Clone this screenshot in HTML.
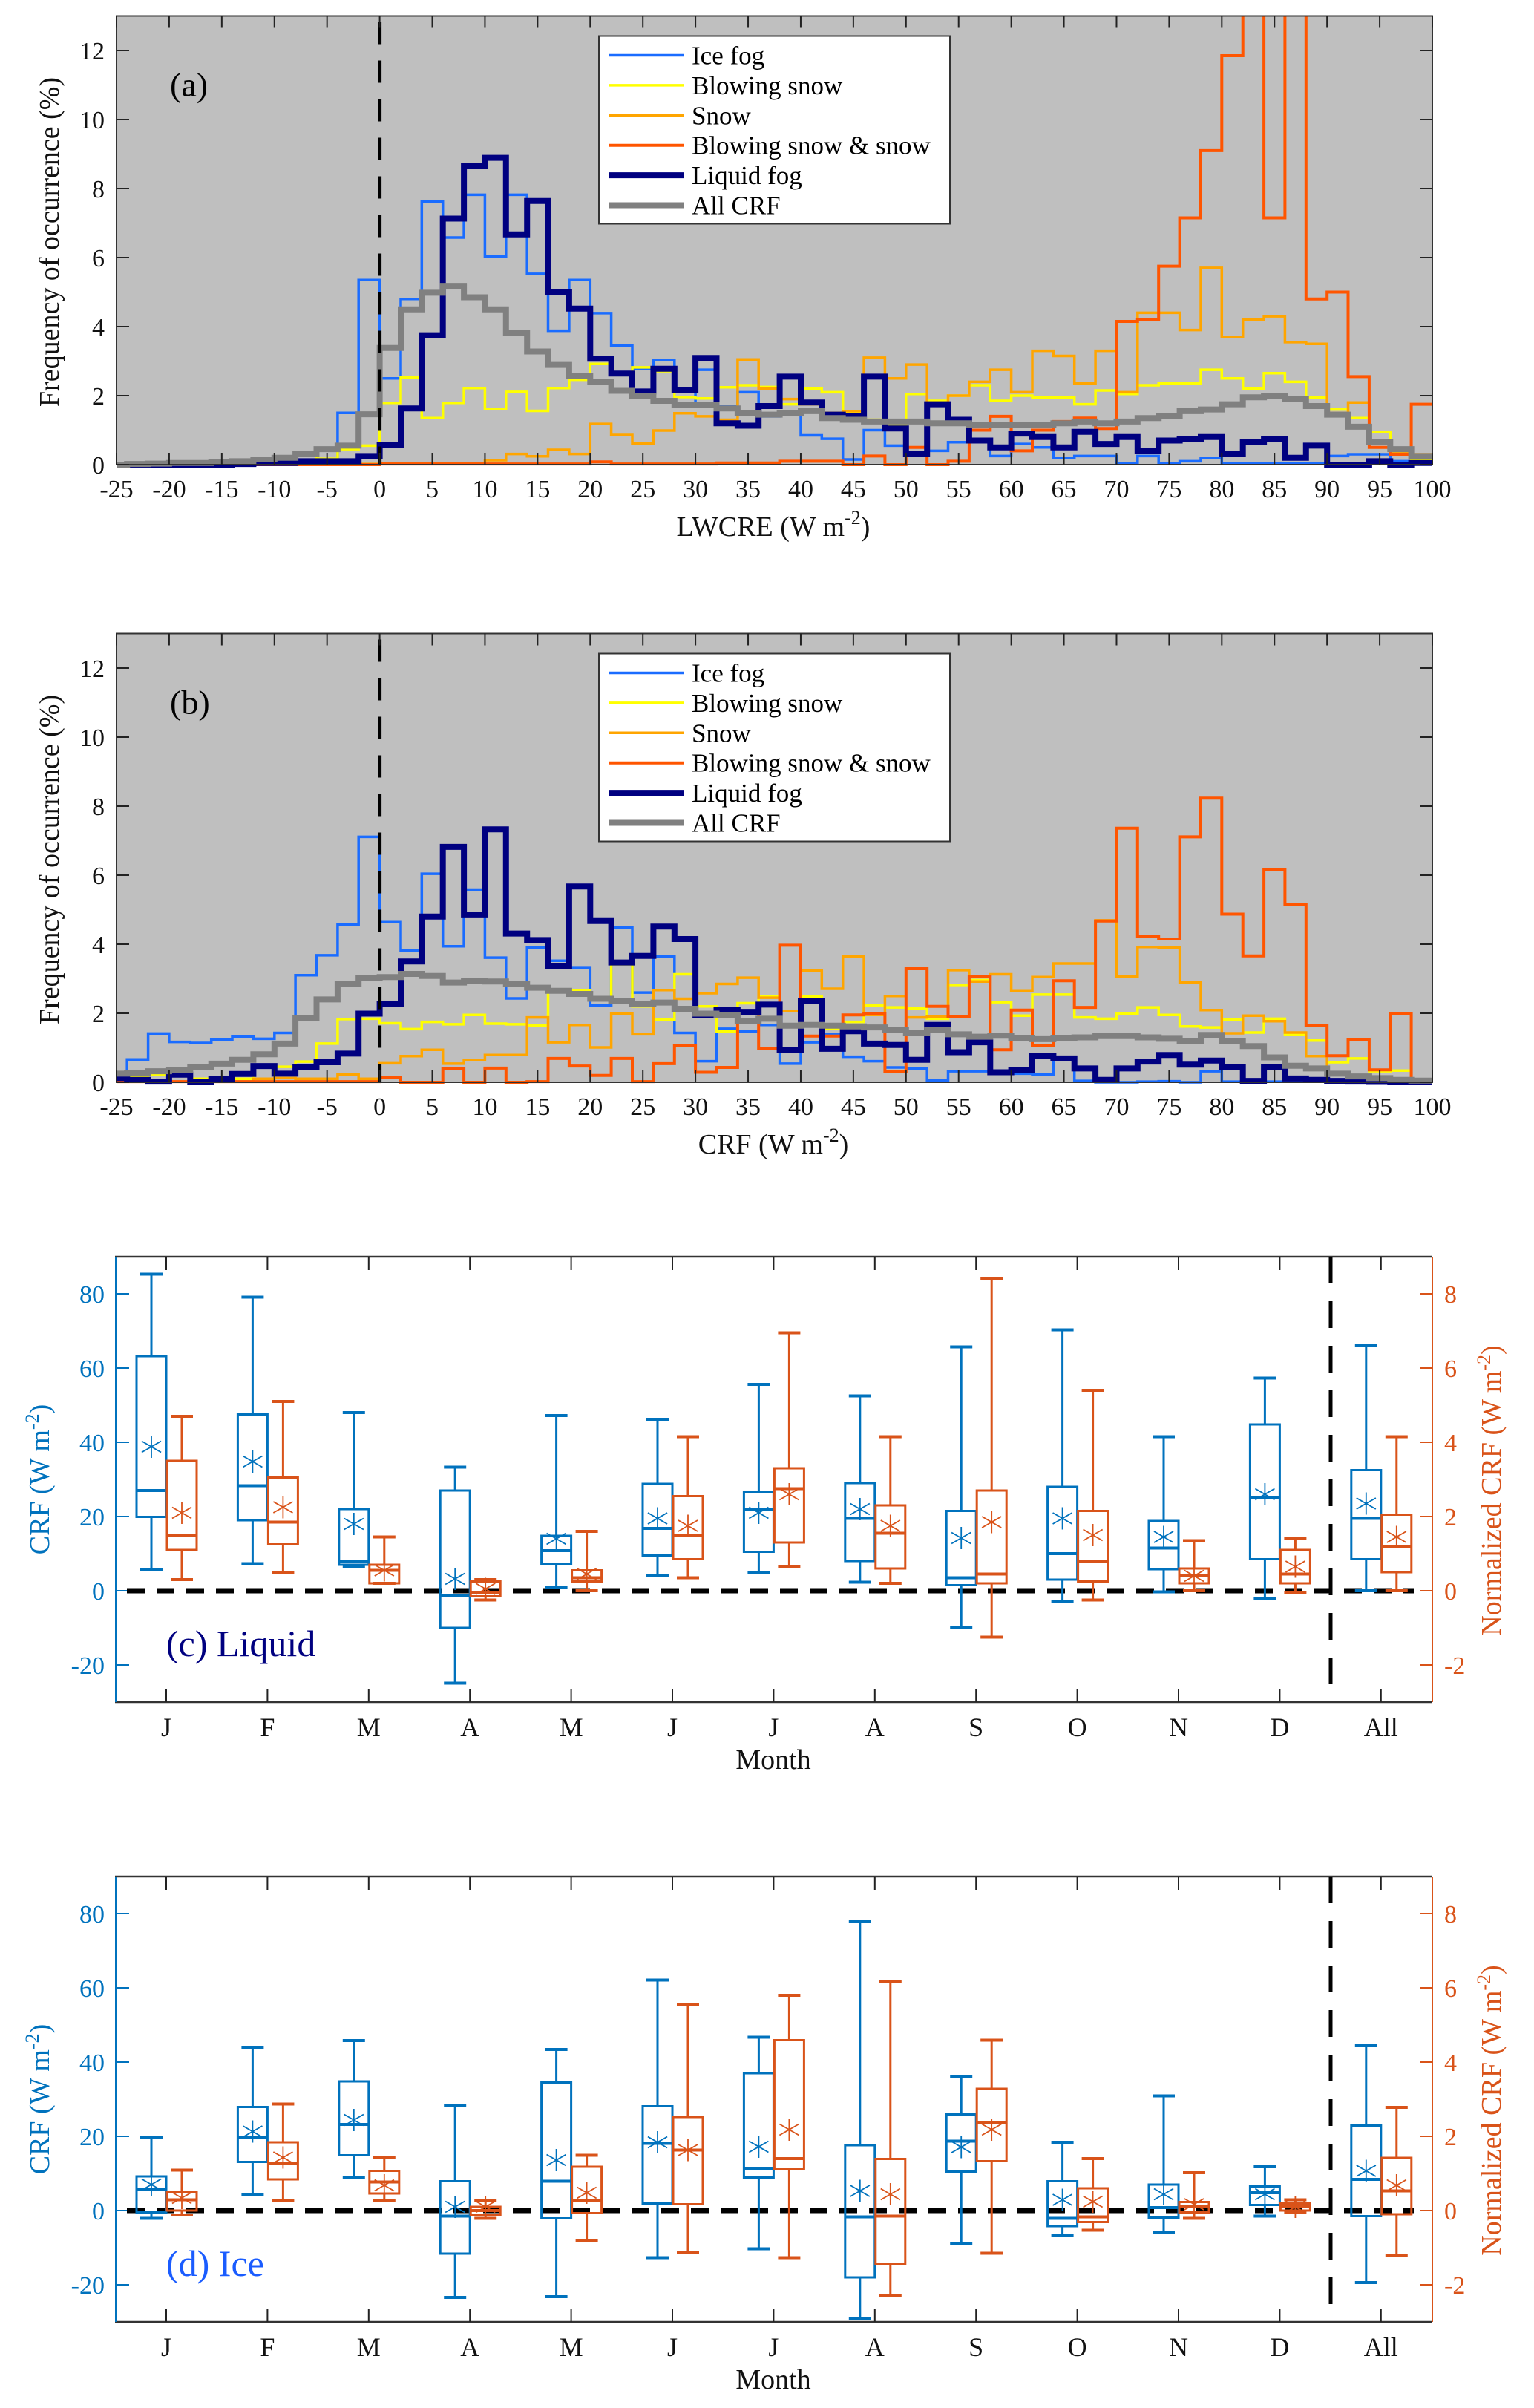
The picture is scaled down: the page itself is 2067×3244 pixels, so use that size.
<!DOCTYPE html>
<html><head><meta charset="utf-8"><title>Fog CRF figure</title>
<style>
html,body{margin:0;padding:0;background:#fff;}
svg, svg text{font-family:"Liberation Serif","DejaVu Serif",serif;}
svg{display:block;}
</style></head>
<body>
<svg id="fig" xmlns="http://www.w3.org/2000/svg" width="2067" height="3244" viewBox="0 0 2067 3244" font-family="'Liberation Serif', 'DejaVu Serif', serif">
<rect width="2067" height="3244" fill="#fff"/>
</svg>
<script>
// ---------- Histogram data: bins of width 2, left edges -26..98 ----------
const binEdges = [];
for (let e = -26; e <= 98; e += 2) binEdges.push(e);
const xTicks = [-25,-20,-15,-10,-5,0,5,10,15,20,25,30,35,40,45,50,55,60,65,70,75,80,85,90,95,100];
const yTicksHist = [0,2,4,6,8,10,12];

const aIceFog = [0,0,0,0,0,0,0,0,0,0.02,0.1,
 1.5,5.35,2.5,4.8,7.63,6.58,7.82,6.03,7.82,5.53,
 3.88,5.35,4.39,3.45,2.77,3.03,1.67,2.75,1.7,2.1,
 1.4,1.5,0.85,0.75,0.15,1.0,0.55,0.5,0.4,0.65,
 0.65,0.25,0.6,0.5,0.2,0.25,0.25,0.05,0.25,0.05,
 0.1,0.2,0.05,0.05,0.05,0.05,0.05,0.25,0.3,0.3,0.1,0.1];
const aBlowing = [0,0,0,0,0,0,0,0.05,0.05,0.3,0.17,
 0.45,0.55,1.79,2.53,1.35,1.79,2.22,1.61,2.11,1.56,
 2.22,2.46,2.92,2.67,2.82,2.71,1.96,1.92,2.24,2.3,
 2.25,1.75,2.2,2.1,1.5,1.3,1.15,2.05,1.85,2.0,
 2.3,1.85,2.0,1.95,1.95,1.75,2.15,2.05,2.3,2.35,
 2.35,2.75,2.5,2.2,2.65,2.4,1.95,1.6,1.35,0.95,0.4,0.15];
const aSnow = [0.02,0.02,0.02,0.02,0.02,0.02,0.02,0.02,0.02,0.02,0.02,
 0.02,0.02,0.05,0.05,0.05,0.05,0.05,0.13,0.31,0.24,
 0.43,0.31,1.18,0.86,0.61,0.99,1.49,1.4,1.3,3.05,
 2.2,1.9,1.75,1.5,1.55,3.1,2.5,2.9,1.8,2.0,
 2.4,2.75,2.1,3.3,3.15,2.35,3.3,2.1,4.4,4.4,
 3.9,5.7,3.7,4.2,4.3,3.55,3.5,1.5,1.8,0.6,0.35,0.3];
const aBsSnow = [0,0,0,0,0,0,0,0,0,0,0,
 0,0,0.02,0.02,0.02,0.02,0.02,0.02,0.02,0.02,
 0.02,0.02,0.08,0.02,0.02,0.02,0.02,0.02,0.05,0.05,
 0.05,0.1,0.1,0.1,0,0.25,0,0.5,0,0.1,
 1.0,1.4,0.4,1.0,1.25,1.35,1.05,4.15,4.2,5.75,
 7.15,9.1,11.85,15,7.15,15,4.8,5.0,2.55,0.5,0.3,1.75];
const aLiquid = [0,0,0,0,0,0,0.02,0.05,0.05,0.1,0.1,
 0.1,0.25,0.56,1.63,3.75,7.13,8.65,8.89,6.67,7.64,
 4.99,4.52,3.07,2.64,2.12,2.78,2.17,3.09,1.2,1.13,
 1.7,2.55,1.8,1.45,1.4,2.55,1.05,0.3,1.75,1.3,
 0.7,0.5,0.9,0.8,0.5,0.95,0.6,0.8,0.4,0.7,
 0.75,0.8,0.3,0.65,0.75,0.2,0.55,0,0,0.1,0,0.05];
const aAll = [0,0.02,0.03,0.05,0.05,0.08,0.1,0.15,0.2,0.3,0.45,
 0.55,1.46,3.38,4.5,4.98,5.18,4.85,4.5,3.81,3.28,
 2.89,2.57,2.4,2.14,2.0,1.85,1.74,1.74,1.63,1.5,
 1.45,1.5,1.55,1.35,1.3,1.25,1.25,1.25,1.2,1.2,
 1.15,1.15,1.15,1.15,1.2,1.25,1.2,1.25,1.35,1.4,
 1.55,1.6,1.75,1.95,2.0,1.9,1.7,1.45,1.1,0.65,0.45,0.25];

const bIceFog = [0.29,0.66,1.41,1.17,1.14,1.24,1.32,1.26,1.43,3.1,
 3.68,4.57,7.11,4.64,3.81,6.04,3.94,5.58,3.61,2.43,
 3.9,3.52,3.31,2.22,4.48,2.6,3.65,1.43,0.61,1.55,
 1.48,1.66,0.54,1.16,1.39,0.74,0.61,0.43,0.4,0.05,
 0.32,0.32,0.25,0.25,0.22,0.65,0.04,0,0,0.02,
 0.03,0,0.32,0.02,0.02,0.02,0.02,0.02,0.02,0.02,0.02,0.02,0.02];
const bBlowing = [0.18,0.14,0.22,0.18,0.1,0.07,0.1,0.51,0.45,0.6,
 1.12,1.83,1.84,1.71,1.54,1.75,1.68,1.95,1.7,1.68,
 1.64,2.65,2.65,2.45,3.42,2.2,1.81,3.13,2.2,1.48,
 2.29,2.5,2.07,2.48,1.55,1.75,2.22,2.17,2.14,1.84,
 2.82,2.96,2.32,1.93,2.54,2.54,1.88,1.84,1.99,2.17,
 1.95,1.62,1.59,1.81,1.44,1.84,1.37,1.21,0.58,0.69,0.32,0.34,0.02];
const bSnow = [0.02,0.02,0.02,0.02,0.02,0.02,0.02,0.1,0.12,0.1,
 0.1,0.22,0.1,0.55,0.76,0.94,0.54,0.65,0.79,0.79,
 1.88,1.16,1.66,1.01,1.99,1.39,2.67,2.42,2.58,2.85,
 3.03,2.45,2.07,3.23,2.71,3.65,1.95,2.5,1.88,1.9,
 3.25,2.92,3.13,2.64,3.05,3.44,3.44,4.69,3.07,3.92,
 3.9,2.89,2.09,1.42,1.93,1.77,1.44,0.76,0.04,0.02,0.02,0.02,0.02];
const bBsSnow = [0.02,0.02,0.02,0.02,0.02,0.02,0.02,0.02,0.02,0.02,
 0.02,0.02,0.02,0.14,0,0,0.4,0,0.41,0,
 0.02,0.69,0.47,0.2,0.69,0.02,0.54,1.06,0.29,0.43,
 2.07,0.97,3.97,1.34,1.34,1.95,1.99,0.32,3.29,2.2,
 1.91,3.07,0.94,2.09,1.06,2.94,2.17,4.67,7.36,4.22,
 4.15,7.11,8.23,4.87,3.66,6.15,5.16,1.64,0.77,1.23,0.36,1.99,0];
const bLiquid = [0.12,0.07,0.02,0.22,0.0,0.1,0.24,0.47,0.25,0.43,
 0.58,0.83,1.99,2.27,3.5,4.8,6.82,4.84,7.33,4.31,
 4.12,3.36,5.67,4.67,3.47,3.66,4.51,4.15,1.95,2.09,
 2.04,2.25,0.94,2.35,0.97,1.48,1.12,1.08,0.65,1.66,
 0.87,1.16,0.29,0.36,0.77,0.69,0.4,0.07,0.4,0.6,
 0.79,0.51,0.63,0.43,0.04,0.43,0.11,0.07,0.04,0.02,0.01,0,0];
const bAll = [0.25,0.27,0.32,0.36,0.43,0.54,0.65,0.81,1.12,1.86,
 2.4,2.85,3.03,3.05,3.14,3.08,2.89,2.94,2.92,2.84,
 2.74,2.65,2.56,2.42,2.35,2.27,2.31,2.13,1.99,1.95,
 1.77,1.84,1.64,1.66,1.64,1.62,1.59,1.52,1.42,1.52,
 1.39,1.32,1.35,1.28,1.25,1.28,1.3,1.34,1.34,1.3,
 1.26,1.19,1.37,1.19,1.05,0.72,0.48,0.4,0.25,0.17,0.12,0.07,0.05];

// ---------- Boxplot data: [low whisker, q1, median, q3, high whisker, mean] ----------
const months = ["J","F","M","A","M","J","J","A","S","O","N","D","All"];
const yTicksCRF = [-20,0,20,40,60,80];
const yTicksNorm = [-2,0,2,4,6,8];
const cLiquidCRF = [
 [5.8,19.9,27,63.2,85.3,38.8],[7.3,19,28.3,47.5,79.1,34.8],[6.5,7,8,22,48,18],
 [-24.9,-10,-1.4,27,33.3,3.2],[1,7.3,10.8,14.8,47.2,14],[4.2,9.5,16.8,28.8,46.2,19.5],
 [5,10.5,22,26.5,55.6,21],[2.3,8,19.5,29,52.5,22],[-10,1.5,3.5,21.5,65.7,14.2],
 [-3,3,10,28,70.3,19.5],[-0.3,5.8,11.5,18.8,41.5,14.5],[-2,8.5,25,44.8,57.3,26],
 [0,8.5,19.5,32.5,66,23.5]];
const cLiquidNorm = [
 [0.3,1.1,1.5,3.5,4.7,2.1],[0.5,1.25,1.85,3.05,5.1,2.25],[0.2,0.2,0.55,0.7,1.45,0.55],
 [-0.25,-0.15,-0.05,0.25,0.3,0.05],[0,0.25,0.35,0.55,1.6,0.45],[0.35,0.85,1.5,2.55,4.15,1.75],
 [0.65,1.3,2.75,3.3,6.95,2.6],[0.2,0.6,1.55,2.3,4.15,1.75],[-1.25,0.2,0.45,2.7,8.4,1.85],
 [-0.25,0.25,0.8,2.15,5.4,1.5],[0,0.2,0.4,0.6,1.35,0.4],[-0.05,0.2,0.45,1.1,1.4,0.65],
 [0,0.5,1.2,2.05,4.15,1.45]];
const dIceCRF = [
 [-2.1,-0.5,5.8,9.2,19.7,7],[4.4,13.1,19.6,27.9,44,21.3],[9,14.9,23.2,34.8,45.8,24.4],
 [-23.4,-11.6,-1.5,7.9,28.4,1],[-23.2,-2.1,7.9,34.5,43.4,13.6],[-12.7,1.9,18.1,28.1,62.1,18.4],
 [-10.3,8.9,11.3,37,46.7,17.2],[-29,-18,-1.7,17.6,78,5.3],[-9,10.5,18.7,25.9,36.1,17.1],
 [-6.8,-4.2,-2.1,7.9,18.4,2.9],[-5.9,-1.9,0.8,7,30.9,4.4],[-1.5,1.5,4.8,6.5,11.8,4.4],
 [-19.4,-1.5,8.4,22.9,44.5,10.7]];
const dIceNorm = [
 [-0.12,0,0.29,0.5,1.09,0.34],[0.27,0.84,1.28,1.84,2.87,1.43],[0.27,0.46,0.77,1.07,1.42,0.68],
 [-0.21,-0.12,0,0.1,0.27,0.1],[-0.8,-0.07,0.27,1.18,1.49,0.48],[-1.13,0.17,1.63,2.52,5.56,1.63],
 [-1.27,1.11,1.4,4.59,5.8,2.18],[-2.3,-1.43,-0.15,1.39,6.17,0.44],[-1.15,1.33,2.37,3.28,4.59,2.18],
 [-0.53,-0.31,-0.17,0.6,1.4,0.24],[-0.21,-0.05,0.1,0.23,1.02,0.17],[-0.05,0,0.1,0.19,0.29,0.1],
 [-1.21,-0.1,0.53,1.42,2.78,0.68]];

// ---------- drawing helpers ----------
const NS = "http://www.w3.org/2000/svg";
const svg = document.getElementById("fig");
function mk(tag, attrs, parent) {
  const el = document.createElementNS(NS, tag);
  for (const k in attrs) el.setAttribute(k, attrs[k]);
  (parent || svg).appendChild(el);
  return el;
}
function txt(str, attrs, parent) {
  const t = mk("text", attrs, parent);
  t.textContent = str;
  return t;
}

const L = 157, R = 1930;
const xScale = u => L + (u + 25) * (R - L) / 125;

const seriesStyle = [
  {name:"Ice fog", color:"#1a6cff", w:3.5, key:"ice-fog"},
  {name:"Blowing snow", color:"#ffff00", w:3.5, key:"blowing-snow"},
  {name:"Snow", color:"#ffa500", w:3.5, key:"snow"},
  {name:"Blowing snow & snow", color:"#ff5500", w:4, key:"blowing-snow-and-snow"},
  {name:"Liquid fog", color:"#000080", w:8, key:"liquid-fog"},
  {name:"All CRF", color:"#808080", w:8, key:"all-crf"}
];

function histPanel(id, y0, label, xtitle, data) {
  const unit = 46.5;
  const yScale = v => y0 - v * unit;
  const top = y0 - 13 * unit;
  const g = mk("g", {});
  
  
  const bg = mk("rect", {x:L, y:top, width:R-L, height:y0-top, fill:"#bfbfbf"}, g);
  
  
  const cp = mk("clipPath", {id:"clip"+id}, g);
  mk("rect", {x:L, y:top, width:R-L, height:y0-top+4}, cp);
  data.forEach((vals, si) => {
    const st = seriesStyle[si];
    let d = "";
    vals.forEach((v, k) => {
      const x1 = xScale(binEdges[k]), x2 = xScale(binEdges[k] + 2), y = yScale(v);
      d += (k === 0 ? "M" : "L") + x1.toFixed(1) + "," + y.toFixed(1) + "L" + x2.toFixed(1) + "," + y.toFixed(1);
    });
    const p = mk("path", {d:d, fill:"none", stroke:st.color, "stroke-width":st.w, "clip-path":"url(#clip"+id+")", "stroke-linejoin":"miter"}, g);
    
    
  });
  const zl = mk("line", {x1:xScale(0), x2:xScale(0), y1:top+8, y2:y0, stroke:"#000", "stroke-width":5, "stroke-dasharray":"30 22"}, g);
  
  
  const fr = mk("rect", {x:L, y:top, width:R-L, height:y0-top, fill:"none", stroke:"#333", "stroke-width":2}, g);
  
  
  xTicks.forEach(t => {
    const x = xScale(t);
    mk("line", {x1:x, x2:x, y1:y0, y2:y0-16, stroke:"#222", "stroke-width":2}, g);
    mk("line", {x1:x, x2:x, y1:top, y2:top+16, stroke:"#222", "stroke-width":2}, g);
    const tl = txt(String(t), {x:x, y:y0+44, "font-size":34, "text-anchor":"middle", fill:"#111"}, g);
    
    
  });
  yTicksHist.forEach(t => {
    const y = yScale(t);
    mk("line", {x1:L, x2:L+17, y1:y, y2:y, stroke:"#222", "stroke-width":2}, g);
    mk("line", {x1:R, x2:R-17, y1:y, y2:y, stroke:"#222", "stroke-width":2}, g);
    const tl = txt(String(t), {x:141, y:y+12, "font-size":34, "text-anchor":"end", fill:"#111"}, g);
    
    
  });
  const lg = mk("g", {}, g);
  
  
  const lt = top + 27;
  mk("rect", {x:807, y:lt, width:473, height:253, fill:"#fff", stroke:"#333", "stroke-width":2}, lg);
  seriesStyle.forEach((st, i) => {
    const ry = lt + 26 + i * 40.4;
    const e = mk("g", {}, lg);
    
    
    mk("line", {x1:821, x2:922, y1:ry, y2:ry, stroke:st.color, "stroke-width":st.w}, e);
    txt(st.name, {x:932, y:ry+12, "font-size":35, fill:"#000"}, e);
  });
  const pl = txt(label, {x:229, y:top+108, "font-size":46, fill:"#000"}, g);
  
  
  const yt = txt("Frequency of occurrence (%)", {x:0, y:0, "font-size":38, "text-anchor":"middle", fill:"#111",
    transform:"translate(79," + (y0 - 300) + ") rotate(-90)"}, g);
  
  
  const xt = mk("text", {x:1042, y:y0+96, "font-size":38, "text-anchor":"middle", fill:"#111"}, g);
  
  
  xt.appendChild(document.createTextNode(xtitle + " (W m"));
  const sup = mk("tspan", {dy:-16, "font-size":26}, xt); sup.textContent = "-2";
  const cl = mk("tspan", {dy:16}, xt); cl.textContent = ")";
}

histPanel("a", 626, "(a)", "LWCRE", [aIceFog, aBlowing, aSnow, aBsSnow, aLiquid, aAll]);
histPanel("b", 1458, "(b)", "CRF", [bIceFog, bBlowing, bSnow, bBsSnow, bLiquid, bAll]);

const BLUE = "#0072bd", ORANGE = "#d95319";
function boxPanel(id, y0, label, labelColor, crf, norm) {
  const unit = 5.0;
  const yS = v => y0 - v * unit;
  const yN = v => y0 - v * 10 * unit;
  const top = y0 - 90 * unit, bot = y0 + 30 * unit;
  const mx = i => 224 + i * 136.4;
  const g = mk("g", {});
  
  
  mk("line", {x1:L-2, x2:R, y1:top, y2:top, stroke:"#333", "stroke-width":2.5}, g);
  mk("line", {x1:L-2, x2:R, y1:bot, y2:bot, stroke:"#333", "stroke-width":2.5}, g);
  const ls = mk("line", {x1:L-1, x2:L-1, y1:top, y2:bot, stroke:BLUE, "stroke-width":2}, g);
  
  
  const rs = mk("line", {x1:R, x2:R, y1:top, y2:bot, stroke:ORANGE, "stroke-width":2}, g);
  
  
  yTicksCRF.forEach(t => {
    const y = yS(t);
    mk("line", {x1:L, x2:L+17, y1:y, y2:y, stroke:BLUE, "stroke-width":2}, g);
    const tl = txt(String(t), {x:141, y:y+12, "font-size":34, "text-anchor":"end", fill:BLUE}, g);
    
    
  });
  yTicksNorm.forEach(t => {
    const y = yN(t);
    mk("line", {x1:R, x2:R-17, y1:y, y2:y, stroke:ORANGE, "stroke-width":2}, g);
    const tl = txt(String(t), {x:1946, y:y+12, "font-size":34, "text-anchor":"start", fill:ORANGE}, g);
    
    
  });
  months.forEach((m, i) => {
    const x = mx(i);
    mk("line", {x1:x, x2:x, y1:bot, y2:bot-18, stroke:"#222", "stroke-width":2}, g);
    mk("line", {x1:x, x2:x, y1:top, y2:top+18, stroke:"#222", "stroke-width":2}, g);
    const tl = txt(m, {x:x, y:bot+46, "font-size":36, "text-anchor":"middle", fill:"#111"}, g);
    
    
  });
  const z = mk("line", {x1:171, x2:1905, y1:y0, y2:y0, stroke:"#000", "stroke-width":7, "stroke-dasharray":"24 16"}, g);
  
  
  const sep = mk("line", {x1:1793, x2:1793, y1:top, y2:bot, stroke:"#000", "stroke-width":5, "stroke-dasharray":"36 24"}, g);
  
  
  function drawBox(stats, cx, scale, color, w, name) {
    const b = mk("g", {stroke:color, fill:"none", "stroke-width":w}, g);
    
    
    const [lo, q1, med, q3, hi, mean] = stats;
    const hw = 20;
    mk("line", {x1:cx, x2:cx, y1:scale(hi), y2:scale(q3)}, b);
    mk("line", {x1:cx, x2:cx, y1:scale(q1), y2:scale(lo)}, b);
    mk("line", {x1:cx-15, x2:cx+15, y1:scale(hi), y2:scale(hi), "stroke-width":w+1}, b);
    mk("line", {x1:cx-15, x2:cx+15, y1:scale(lo), y2:scale(lo), "stroke-width":w+1}, b);
    mk("rect", {x:cx-hw, y:scale(q3), width:2*hw, height:Math.max(1, scale(q1)-scale(q3))}, b);
    mk("line", {x1:cx-hw, x2:cx+hw, y1:scale(med), y2:scale(med), "stroke-width":w+1}, b);
    const my = scale(mean), s = 15;
    mk("path", {d:`M${cx},${my-s}V${my+s}M${cx-s*0.87},${my-s*0.5}L${cx+s*0.87},${my+s*0.5}M${cx-s*0.87},${my+s*0.5}L${cx+s*0.87},${my-s*0.5}`, "stroke-width":1.8}, b);
  }
  months.forEach((m, i) => {
    drawBox(crf[i], mx(i) - 20, yS, BLUE, 3, 'crf-box-' + i);
    drawBox(norm[i], mx(i) + 21, yN, ORANGE, 3, 'normalized-crf-box-' + i);
  });
  const pl = txt(label, {x:224, y:y0+88, "font-size":50, fill:labelColor}, g);
  
  
  const mt = txt("Month", {x:1042, y:bot+90, "font-size":38, "text-anchor":"middle", fill:"#111"}, g);
  
  
  const yl = mk("text", {x:0, y:0, "font-size":38, "text-anchor":"middle", fill:BLUE, transform:"translate(66," + (y0-150) + ") rotate(-90)"}, g);
  
  
  yl.appendChild(document.createTextNode("CRF (W m"));
  let s1 = mk("tspan", {dy:-14, "font-size":26}, yl); s1.textContent = "-2";
  let s2 = mk("tspan", {dy:14}, yl); s2.textContent = ")";
  const yr = mk("text", {x:0, y:0, "font-size":38, "text-anchor":"middle", fill:ORANGE, transform:"translate(2022," + (y0-135) + ") rotate(-90)"}, g);
  
  
  yr.appendChild(document.createTextNode("Normalized CRF (W m"));
  let s3 = mk("tspan", {dy:-14, "font-size":26}, yr); s3.textContent = "-2";
  let s4 = mk("tspan", {dy:14}, yr); s4.textContent = ")";
}
boxPanel("c", 2143, "(c) Liquid", "#000080", cLiquidCRF, cLiquidNorm);
boxPanel("d", 2978, "(d) Ice", "#1a5cff", dIceCRF, dIceNorm);
</script>
</body></html>
